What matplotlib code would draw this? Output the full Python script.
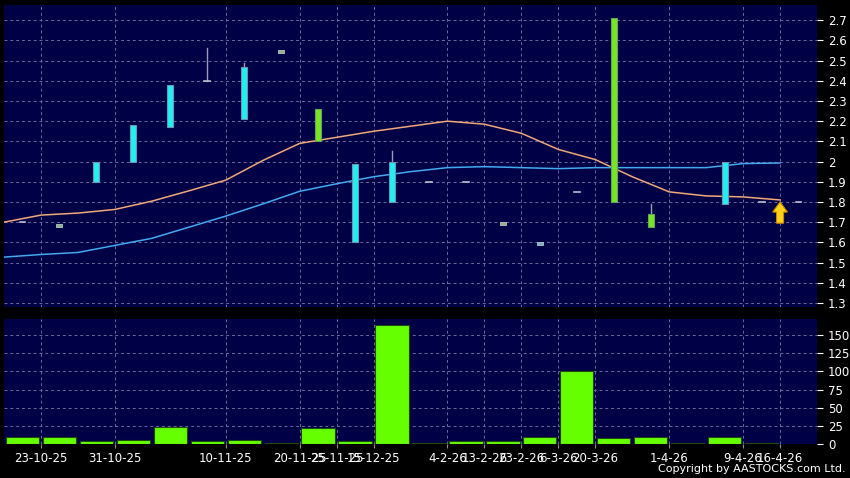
import matplotlib
matplotlib.use('Agg')
import matplotlib.pyplot as plt
from matplotlib.patches import Rectangle, FancyArrow
import numpy as np

plt.rcParams['font.family'] = 'DejaVu Sans'

# one slot per trading day shown
slots = np.arange(22)
opens = [1.70, 1.685, 2.00, 2.18, 2.38, 2.40, 2.47, 2.545, 2.10, 1.99, 2.00,
         1.90, 1.90, 1.695, 1.595, 1.85, 1.80, 1.675, None, 2.00, 1.80, 1.80]
closes = [1.70, 1.685, 1.90, 2.00, 2.17, 2.40, 2.21, 2.545, 2.26, 1.60, 1.80,
          1.90, 1.90, 1.695, 1.595, 1.85, 2.71, 1.74, None, 1.79, 1.80, 1.80]
highs = [1.70, 1.685, 2.00, 2.18, 2.38, 2.56, 2.49, 2.545, 2.26, 1.99, 2.05,
         1.90, 1.90, 1.695, 1.595, 1.85, 2.71, 1.79, None, 2.00, 1.80, 1.80]
kinds = ['doji', 'flat_g', 'down', 'down', 'down', 'doji', 'down', 'flat_g', 'up', 'down', 'down',
         'doji', 'doji', 'flat_g', 'flat_b', 'doji', 'up', 'up', None, 'down', 'doji', 'doji']
volumes = [10, 10, 3.7, 6, 24, 3.7, 6, 1.4, 22, 3.7, 164, 1.4,
           3.7, 3.7, 9.7, 100, 8, 9.7, 1.4, 9.7, 1.4, 0]

# moving averages, plotted between slots (slot - 0.5)
ma_fast = [1.70, 1.735, 1.745, 1.763, 1.804, 1.855, 1.908, 2.005, 2.09, 2.12, 2.15,
           2.175, 2.20, 2.185, 2.14, 2.06, 2.01, 1.925, 1.85, 1.83, 1.825, 1.81]
ma_slow = [1.527, 1.54, 1.55, 1.585, 1.62, 1.675, 1.73, 1.79, 1.853, 1.89, 1.925,
           1.95, 1.97, 1.975, 1.97, 1.965, 1.97, 1.97, 1.97, 1.97, 1.99, 1.993]

tick_slots = [0, 2, 5, 7, 8, 9, 11, 12, 13, 14, 15, 17, 19, 20]
tick_labels = ['23-10-25', '31-10-25', '10-11-25', '20-11-25', '25-11-25', '15-12-25',
               '4-2-26', '13-2-26', '23-2-26', '6-3-26', '20-3-26', '1-4-26', '9-4-26', '16-4-26']

arrow_slot = 20.5
arrow_price = 1.80

bg = '#000046'
grid_c = '#6a6a9c'
fig = plt.figure(figsize=(8.5, 4.78), dpi=100, facecolor='black')
ax = fig.add_axes([0.0047, 0.3577, 0.9565, 0.6318], facecolor=bg)
axv = fig.add_axes([0.0047, 0.0711, 0.9565, 0.2615], facecolor=bg)

bw = 0.16
for i, k in enumerate(kinds):
    if k is None:
        continue
    o, c, h = opens[i], closes[i], highs[i]
    top = max(o, c)
    if h > top:
        ax.plot([i, i], [top, h], color='#9a9ab8', lw=1, zorder=3)
    if k == 'doji':
        ax.plot([i - bw / 2, i + bw / 2], [c, c], color='#c0c0d0', lw=1.2, zorder=4)
    elif k in ('flat_g', 'flat_b'):
        fc = '#8fb08a' if k == 'flat_g' else '#7aaed0'
        ax.add_patch(Rectangle((i - bw / 2, c - 0.008), bw, 0.016, facecolor=fc,
                               edgecolor='#b8c8c0', lw=0.6, zorder=4))
    else:
        fc = '#22eef4' if k == 'down' else '#77e622'
        ec = '#6a98b0' if k == 'down' else '#6aa060'
        ax.add_patch(Rectangle((i - bw / 2, min(o, c)), bw, abs(o - c), facecolor=fc,
                               edgecolor=ec, lw=0.8, zorder=4))

ma_x = slots - 0.5
ax.plot(ma_x, ma_fast, color='#f0a878', lw=1.1, zorder=2)
ax.plot(ma_x, ma_slow, color='#44aaf0', lw=1.1, zorder=2)

ax.add_patch(FancyArrow(arrow_slot, arrow_price - 0.105, 0, 0.105, width=0.19,
                        head_width=0.40, head_length=0.05, length_includes_head=True,
                        facecolor='#ffd21a', edgecolor='#c88a00', lw=0.8, zorder=5))

axv.bar(slots, volumes, width=0.9, color='#66ff00', edgecolor='#1e4a10', lw=0.8, zorder=3)

for a in (ax, axv):
    a.set_xlim(-0.5, 21.5)
    a.set_xticks([s + 0.5 for s in tick_slots])
    a.grid(True, color=grid_c, ls=(0, (3, 3)), lw=0.7, zorder=0)
    a.set_axisbelow(True)
    for sp in a.spines.values():
        sp.set_visible(False)
    a.yaxis.tick_right()
    a.tick_params(axis='y', colors='white', labelsize=8.5, length=4, width=0.8, pad=4)
    a.tick_params(axis='x', colors='#909090', labelcolor='white', labelsize=8.5,
                  length=3, width=0.8, pad=3)

ax.set_ylim(1.28, 2.775)
ax.set_yticks(np.arange(1.3, 2.71, 0.1))
ax.yaxis.set_major_formatter(plt.FuncFormatter(lambda v, p: '%g' % round(v, 1)))
ax.tick_params(axis='x', length=0, labelbottom=False)

axv.set_ylim(0, 172)
axv.set_yticks(np.arange(0, 151, 25))
axv.set_xticklabels(tick_labels)

fig.text(0.995, 0.0075, 'Copyright by AASTOCKS.com Ltd.', color='white', fontsize=8,
         ha='right', va='bottom')

fig.savefig('out.png', dpi=100, facecolor='black')
